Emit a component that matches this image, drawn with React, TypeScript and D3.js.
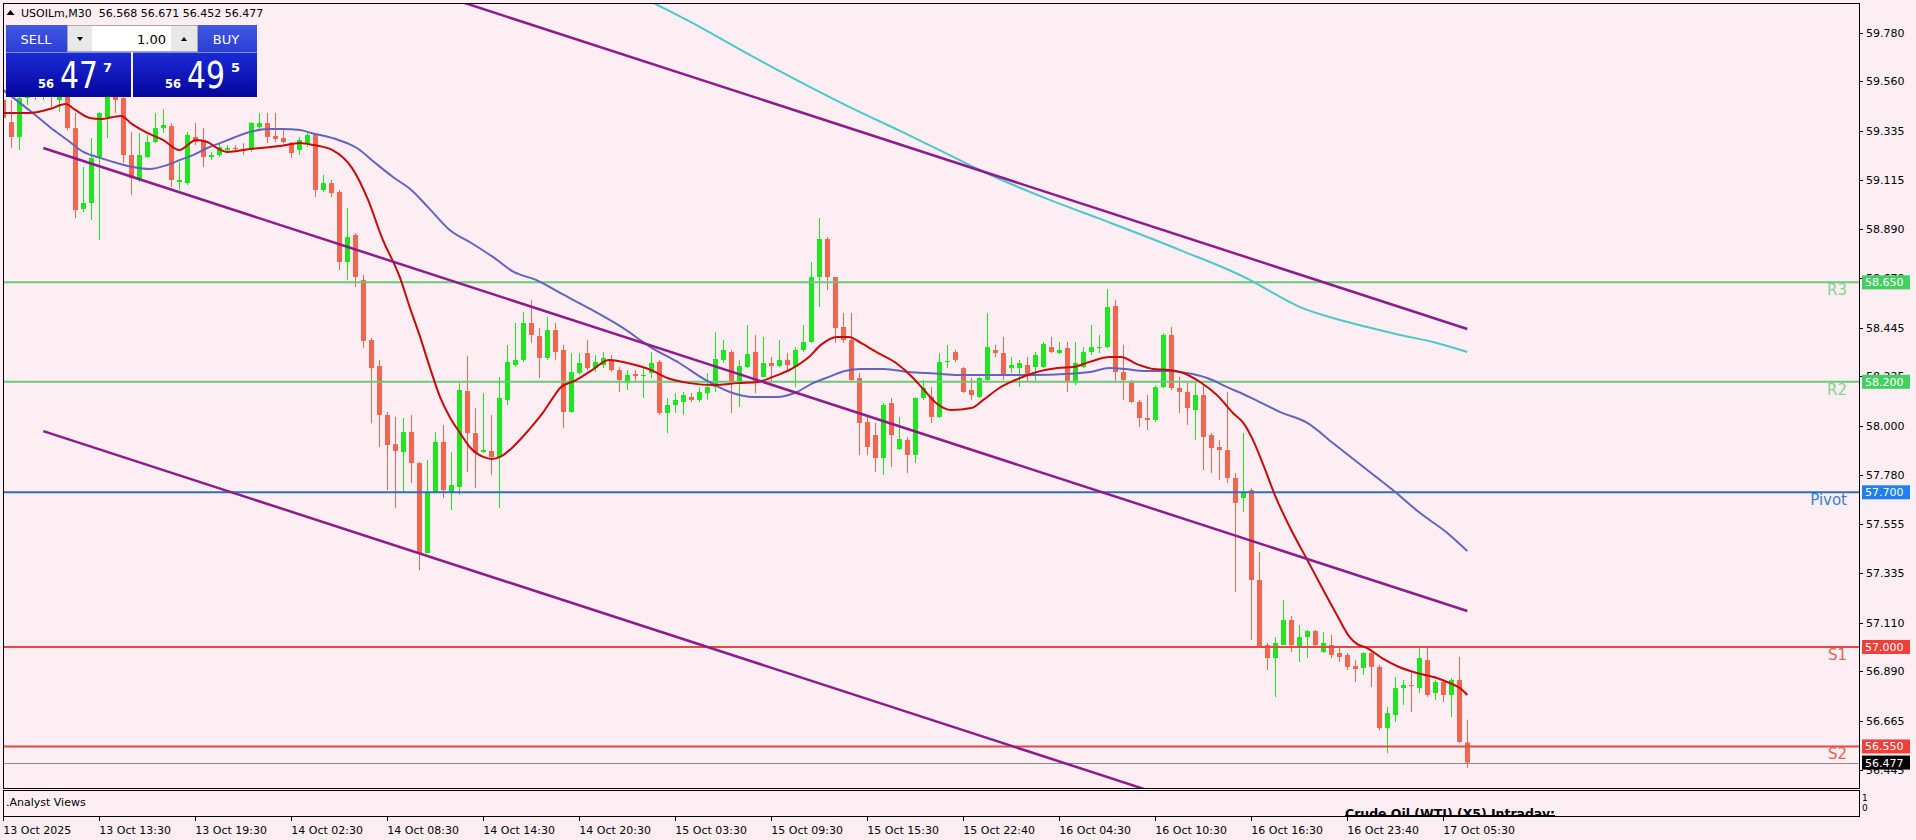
import React from 'react';
import * as d3 from 'd3';

// ---------- DATA ----------
const symbolName = 'USOILm,M30';
const opens = [
  59.475, 59.375, 59.308, 59.484, 59.529, 59.498, 59.566, 59.475, 59.511, 59.348,
  58.982, 59.009, 59.213, 59.398, 59.529, 59.484, 59.226, 59.113, 59.217, 59.285,
  59.348, 59.357, 59.104, 59.099, 59.308, 59.294, 59.217, 59.226, 59.249, 59.258,
  59.253, 59.249, 59.353, 59.371, 59.312, 59.303, 59.280, 59.249, 59.280, 59.317,
  59.068, 59.099, 59.059, 58.742, 58.864, 58.661, 58.389, 58.271, 58.050, 57.918,
  57.882, 57.973, 57.832, 57.425, 57.701, 57.928, 57.701, 57.724, 58.158, 57.968,
  57.882, 57.887, 57.860, 58.118, 58.276, 58.299, 58.466, 58.407, 58.308, 58.434,
  58.344, 58.063, 58.240, 58.330, 58.262, 58.276, 58.299, 58.253, 58.194, 58.235,
  58.226, 58.240, 58.290, 58.059, 58.095, 58.109, 58.131, 58.118, 58.149, 58.176,
  58.299, 58.335, 58.199, 58.267, 58.335, 58.222, 58.285, 58.271, 58.299, 58.267,
  58.344, 58.380, 58.674, 58.846, 58.674, 58.448, 58.389, 58.217, 58.018, 57.959,
  57.855, 58.104, 57.896, 57.937, 57.869, 58.127, 58.131, 58.041, 58.290, 58.335,
  58.262, 58.163, 58.131, 58.208, 58.344, 58.330, 58.262, 58.262, 58.276, 58.267,
  58.267, 58.357, 58.330, 58.353, 58.194, 58.267, 58.335, 58.353, 58.357, 58.543,
  58.244, 58.199, 58.109, 58.036, 58.027, 58.176, 58.412, 58.172, 58.154, 58.072,
  58.140, 57.959, 57.905, 57.891, 57.765, 57.674, 57.710, 57.303, 57.009, 56.950,
  57.009, 57.122, 57.000, 57.045, 57.072, 56.977, 57.009, 56.973, 56.964, 56.914,
  56.905, 56.973, 56.910, 56.633, 56.692, 56.814, 56.828, 56.814, 56.941, 56.792,
  56.842, 56.783, 56.851, 56.568,
];
const highs = [
  59.493, 59.475, 59.511, 59.566, 59.588, 59.611, 59.602, 59.543, 59.529, 59.416,
  59.172, 59.303, 59.421, 59.543, 59.566, 59.520, 59.330, 59.326, 59.317, 59.416,
  59.434, 59.371, 59.195, 59.330, 59.371, 59.348, 59.240, 59.280, 59.271, 59.271,
  59.280, 59.375, 59.416, 59.416, 59.416, 59.348, 59.285, 59.308, 59.326, 59.326,
  59.136, 59.113, 59.068, 58.986, 58.873, 58.683, 58.398, 58.299, 58.063, 58.041,
  58.036, 58.050, 57.837, 57.846, 57.973, 58.004, 57.882, 58.194, 58.317, 58.081,
  58.149, 58.050, 58.222, 58.367, 58.466, 58.516, 58.570, 58.443, 58.493, 58.466,
  58.367, 58.330, 58.330, 58.389, 58.321, 58.335, 58.321, 58.267, 58.253, 58.253,
  58.267, 58.335, 58.299, 58.127, 58.149, 58.154, 58.149, 58.176, 58.240, 58.425,
  58.389, 58.344, 58.299, 58.457, 58.412, 58.403, 58.312, 58.389, 58.330, 58.357,
  58.457, 58.742, 58.941, 58.855, 58.674, 58.511, 58.511, 58.240, 58.041, 58.014,
  58.104, 58.127, 58.041, 57.950, 58.131, 58.208, 58.176, 58.330, 58.367, 58.344,
  58.267, 58.217, 58.222, 58.511, 58.367, 58.403, 58.312, 58.299, 58.312, 58.335,
  58.380, 58.403, 58.380, 58.380, 58.380, 58.357, 58.457, 58.412, 58.620, 58.570,
  58.367, 58.208, 58.118, 58.140, 58.185, 58.421, 58.448, 58.222, 58.194, 58.194,
  58.185, 57.968, 57.937, 58.154, 57.787, 57.968, 57.719, 57.430, 57.018, 57.045,
  57.213, 57.140, 57.100, 57.077, 57.077, 57.068, 57.054, 57.000, 56.973, 56.941,
  56.977, 56.977, 56.919, 56.729, 56.864, 56.851, 56.882, 56.995, 56.995, 56.851,
  56.851, 56.860, 56.955, 56.671,
];
const lows = [
  59.326, 59.258, 59.249, 59.452, 59.475, 59.475, 59.439, 59.421, 59.339, 58.941,
  58.968, 58.932, 58.842, 59.303, 59.416, 59.190, 59.045, 59.104, 59.213, 59.280,
  59.326, 59.081, 59.068, 59.090, 59.271, 59.172, 59.204, 59.217, 59.235, 59.240,
  59.226, 59.240, 59.339, 59.280, 59.285, 59.280, 59.213, 59.226, 59.262, 59.036,
  59.059, 59.036, 58.706, 58.661, 58.629, 58.353, 58.013, 57.905, 57.710, 57.629,
  57.701, 57.742, 57.348, 57.425, 57.697, 57.674, 57.620, 57.688, 57.792, 57.719,
  57.878, 57.778, 57.629, 58.095, 58.267, 58.290, 58.376, 58.217, 58.299, 58.299,
  57.991, 58.059, 58.231, 58.253, 58.244, 58.262, 58.244, 58.154, 58.163, 58.199,
  58.127, 58.217, 58.050, 57.968, 58.059, 58.050, 58.109, 58.109, 58.118, 58.154,
  58.285, 58.059, 58.086, 58.262, 58.149, 58.222, 58.199, 58.267, 58.253, 58.176,
  58.335, 58.376, 58.538, 58.615, 58.376, 58.376, 58.199, 57.869, 57.869, 57.792,
  57.778, 57.814, 57.891, 57.787, 57.832, 58.118, 58.014, 58.036, 58.262, 58.290,
  58.149, 58.118, 58.127, 58.199, 58.312, 58.208, 58.240, 58.176, 58.199, 58.199,
  58.262, 58.330, 58.326, 58.154, 58.185, 58.262, 58.321, 58.330, 58.353, 58.194,
  58.118, 58.104, 57.995, 57.982, 58.018, 58.172, 58.163, 58.059, 58.005, 57.937,
  57.801, 57.787, 57.756, 57.742, 57.249, 57.611, 57.032, 56.995, 56.896, 56.774,
  57.009, 56.977, 56.932, 56.950, 57.000, 56.973, 56.950, 56.932, 56.896, 56.842,
  56.873, 56.819, 56.624, 56.520, 56.661, 56.738, 56.706, 56.792, 56.774, 56.760,
  56.751, 56.683, 56.566, 56.452,
];
const closes = [
  59.394, 59.308, 59.484, 59.529, 59.498, 59.566, 59.511, 59.520, 59.348, 58.977,
  59.009, 59.213, 59.416, 59.520, 59.475, 59.226, 59.122, 59.226, 59.285, 59.348,
  59.362, 59.113, 59.113, 59.317, 59.285, 59.217, 59.226, 59.262, 59.258, 59.253,
  59.244, 59.371, 59.371, 59.308, 59.299, 59.285, 59.235, 59.294, 59.317, 59.068,
  59.099, 59.054, 58.742, 58.855, 58.674, 58.385, 58.262, 58.050, 57.914, 57.887,
  57.973, 57.832, 57.425, 57.701, 57.928, 57.710, 57.733, 58.163, 57.968, 57.878,
  57.891, 57.860, 58.127, 58.290, 58.299, 58.466, 58.412, 58.308, 58.434, 58.335,
  58.063, 58.244, 58.285, 58.262, 58.290, 58.308, 58.253, 58.208, 58.231, 58.226,
  58.231, 58.285, 58.059, 58.095, 58.118, 58.140, 58.118, 58.154, 58.176, 58.303,
  58.344, 58.199, 58.271, 58.326, 58.194, 58.285, 58.271, 58.299, 58.276, 58.344,
  58.380, 58.674, 58.846, 58.674, 58.443, 58.389, 58.208, 58.014, 57.905, 57.855,
  58.095, 57.959, 57.941, 57.869, 58.127, 58.172, 58.041, 58.290, 58.294, 58.299,
  58.154, 58.140, 58.217, 58.357, 58.330, 58.231, 58.276, 58.285, 58.231, 58.321,
  58.371, 58.335, 58.344, 58.199, 58.285, 58.335, 58.357, 58.357, 58.538, 58.244,
  58.208, 58.109, 58.036, 58.027, 58.176, 58.412, 58.172, 58.154, 58.081, 58.140,
  57.950, 57.900, 57.891, 57.765, 57.652, 57.701, 57.303, 57.000, 56.950, 57.018,
  57.122, 57.009, 57.045, 57.072, 57.009, 57.018, 56.964, 56.955, 56.910, 56.900,
  56.973, 56.910, 56.633, 56.701, 56.814, 56.828, 56.823, 56.950, 56.783, 56.842,
  56.783, 56.851, 56.570, 56.477,
];
const askPrice = 56.495;

// moving averages: [bar index, price]
const maFast: [number, number][] = [
  [0, 59.416], [3.2, 59.416], [5.8, 59.434], [7.8, 59.457], [9.0, 59.430], [10.8, 59.394],
  [12.1, 59.389], [14.7, 59.403], [16.1, 59.366], [18.0, 59.326], [20.0, 59.294], [22.0, 59.249],
  [24.1, 59.294], [25.5, 59.285], [26.7, 59.258], [28.0, 59.240], [30.8, 59.253], [34.6, 59.267],
  [37.1, 59.280], [38.8, 59.271], [41.1, 59.249], [43.6, 59.167], [45.6, 59.023], [47.3, 58.855],
  [49.6, 58.670], [50.8, 58.538], [52.1, 58.403], [53.3, 58.267], [54.6, 58.131], [55.8, 58.041],
  [57.1, 57.968], [58.3, 57.905], [60.0, 57.860], [61.1, 57.851], [62.1, 57.860], [63.7, 57.905],
  [64.9, 57.950], [66.2, 58.004], [67.5, 58.063], [68.7, 58.127], [69.6, 58.172], [71.6, 58.208],
  [73.6, 58.253], [75.7, 58.299], [78.0, 58.285], [81.0, 58.253], [83.0, 58.217], [85.8, 58.194],
  [88.8, 58.185], [91.8, 58.194], [94.3, 58.199], [96.2, 58.222], [98.7, 58.262], [100.7, 58.312],
  [102.2, 58.367], [104.2, 58.403], [105.7, 58.403], [107.2, 58.376], [109.1, 58.335], [111.6, 58.285],
  [113.6, 58.222], [115.1, 58.163], [116.6, 58.104], [118.5, 58.072], [121.0, 58.081], [122.5, 58.118],
  [124.5, 58.172], [126.5, 58.208], [128.8, 58.240], [131.8, 58.262], [133.8, 58.267], [135.8, 58.290],
  [138.3, 58.312], [139.7, 58.312], [141.7, 58.280], [143.7, 58.258], [145.7, 58.253], [147.5, 58.240],
  [149.6, 58.199], [151.7, 58.140], [153.7, 58.059], [155.0, 58.014], [156.2, 57.937], [157.5, 57.824],
  [159.0, 57.683], [160.8, 57.543], [163.0, 57.394], [165.0, 57.258], [166.7, 57.145], [168.3, 57.045],
  [169.2, 57.014], [170.5, 56.995], [172.5, 56.946], [174.2, 56.914], [176.7, 56.882], [179.2, 56.860],
  [180.8, 56.837], [182.1, 56.814], [183.0, 56.783],
];
const maMid: [number, number][] = [
  [0, 59.520], [2.1, 59.461], [3.7, 59.416], [5.8, 59.353], [8.0, 59.294], [10.0, 59.240],
  [12.1, 59.213], [14.2, 59.190], [16.2, 59.172], [18.3, 59.163], [20.5, 59.181], [22.1, 59.204],
  [23.7, 59.226], [25.5, 59.258], [27.1, 59.280], [28.7, 59.303], [30.8, 59.330], [33.0, 59.344],
  [35.0, 59.344], [37.1, 59.339], [38.5, 59.326], [41.9, 59.294], [44.2, 59.258], [46.5, 59.190],
  [48.7, 59.127], [51.0, 59.068], [53.2, 58.986], [55.8, 58.887], [58.5, 58.828], [61.2, 58.765],
  [63.8, 58.697], [66.6, 58.661], [69.6, 58.602], [73.6, 58.525], [77.5, 58.443], [80.9, 58.357],
  [84.5, 58.285], [87.8, 58.208], [90.8, 58.154], [93.8, 58.131], [96.7, 58.131], [99.2, 58.154],
  [101.2, 58.194], [103.2, 58.222], [105.2, 58.249], [107.2, 58.258], [110.1, 58.258], [113.1, 58.244],
  [115.6, 58.240], [118.9, 58.231], [123.9, 58.231], [128.8, 58.231], [132.8, 58.235], [135.8, 58.244],
  [138.3, 58.262], [140.2, 58.258], [142.7, 58.249], [145.5, 58.249], [147.9, 58.240], [150.5, 58.217],
  [153.0, 58.176], [155.8, 58.131], [159.6, 58.063], [163.0, 58.014], [166.2, 57.923], [170.5, 57.801],
  [173.7, 57.710], [177.1, 57.606], [180.5, 57.516], [183.0, 57.434],
];
const maSlow: [number, number][] = [
  [79.6, 59.946], [81.3, 59.914], [87.1, 59.805], [93.3, 59.679], [99.6, 59.557], [105.8, 59.443],
  [112.1, 59.335], [118.3, 59.226], [121.8, 59.163], [130.8, 59.023], [137.1, 58.937], [147.1, 58.796],
  [155.8, 58.661], [158.7, 58.602], [162.1, 58.538], [166.2, 58.489], [170.5, 58.448], [174.6, 58.412],
  [178.7, 58.380], [183.0, 58.335],
];

// regression channel: [bar, price] endpoints
const channelTop: [number, number][] = [[5, 60.534], [183, 58.439]];
const channelMid: [number, number][] = [[5, 59.258], [183, 57.163]];
const channelBot: [number, number][] = [[5, 57.977], [183, 55.882]];

// pivot levels
const levelNames = ['R3', 'R2', 'Pivot', 'S1', 'S2'];
const levelPrices = [58.65, 58.2, 57.7, 57.0, 56.55];

// axes
const priceTicks = [59.78, 59.56, 59.335, 59.115, 58.89, 58.67, 58.445, 58.225, 58.0, 57.78, 57.555, 57.335, 57.11, 56.89, 56.665, 56.445];
const timeLabels = [
  '13 Oct 2025', '13 Oct 13:30', '13 Oct 19:30', '14 Oct 02:30', '14 Oct 08:30', '14 Oct 14:30',
  '14 Oct 20:30', '15 Oct 03:30', '15 Oct 09:30', '15 Oct 15:30', '15 Oct 22:40', '16 Oct 04:30',
  '16 Oct 10:30', '16 Oct 16:30', '16 Oct 23:40', '17 Oct 05:30',
];
const timeLabelBars = [0, 12, 24, 36, 48, 60, 72, 84, 96, 108, 120, 132, 144, 156, 168, 180];

const subWindowName = '.Analyst Views';
const subWindowTitle = 'Crude Oil (WTI) (X5) Intraday:';
const lotSize = '1.00';

// ---------- STYLE ----------
const BG = '#FCEEF2';
const UP = '#1FE41F';
const DOWN = '#F2654F';
const FONT = "'DejaVu Sans', sans-serif";
const levelColors: Record<string, { line: string; text: string; box: string }> = {
  R3: { line: '#6CC97B', text: '#86D394', box: '#43CF62' },
  R2: { line: '#6CC97B', text: '#86D394', box: '#43CF62' },
  Pivot: { line: '#2D6FBE', text: '#3C7DD0', box: '#1F80F0' },
  S1: { line: '#E24A44', text: '#E2625C', box: '#EE3F38' },
  S2: { line: '#E24A44', text: '#E2625C', box: '#EE3F38' },
};

const L = 3, R = 1859, T = 3, B = 788;

export default function App() {
  const x = d3.scaleLinear().domain([0, 183]).range([3.3, 1467.3]);
  const y = d3.scaleLinear().domain([56.362, 59.914]).range([788, 3]);

  const maLine = d3
    .line<[number, number]>()
    .x((d) => x(d[0]))
    .y((d) => y(d[1]))
    .curve(d3.curveMonotoneX);

  const fmt = d3.format('.3f');
  const split = (p: number) => {
    const s = fmt(p);
    return { big: s.slice(0, 2), mid: s.slice(3, 5), small: s.slice(5) };
  };
  const sell = split(closes[closes.length - 1]);
  const buy = split(askPrice);
  const last = closes.length - 1;
  const ohlcText = `${symbolName}  ${fmt(opens[last])} ${fmt(highs[last])} ${fmt(lows[last])} ${fmt(closes[last])}`;

  return (
    <svg
      width={1916}
      height={840}
      style={{ position: 'absolute', left: 0, top: 0, display: 'block' }}
      fontFamily={FONT}
    >
      <defs>
        <clipPath id="mainClip">
          <rect x={L + 1} y={T + 1} width={R - L - 1} height={B - T - 1} />
        </clipPath>
        <clipPath id="subClip">
          <rect x={L + 1} y={791} width={R - L - 1} height={25.5} />
        </clipPath>
        <linearGradient id="btnTop" x1="0" y1="0" x2="0" y2="1">
          <stop offset="0" stopColor="#4357E4" />
          <stop offset="1" stopColor="#2A3ED6" />
        </linearGradient>
        <linearGradient id="btnBot" x1="0" y1="0" x2="0" y2="1">
          <stop offset="0" stopColor="#1B2BD6" />
          <stop offset="1" stopColor="#05059C" />
        </linearGradient>
      </defs>
      <rect x={0} y={0} width={1916} height={840} fill={BG} />

      <g clipPath="url(#mainClip)">
        {/* candles */}
        {opens.map((o, i) => {
          const c = closes[i];
          const cx = Math.round(x(i));
          const col = c >= o ? UP : DOWN;
          const yt = y(Math.max(o, c));
          const yb = y(Math.min(o, c));
          return (
            <g key={i}>
              <line x1={cx + 0.5} x2={cx + 0.5} y1={y(highs[i])} y2={y(lows[i])} stroke={col} strokeWidth={1} />
              <rect x={cx - 2} y={yt} width={5} height={Math.max(1, yb - yt)} fill={col} />
            </g>
          );
        })}

        {/* level lines */}
        {levelNames.map((n, i) => (
          <line key={n} x1={L} x2={R} y1={y(levelPrices[i])} y2={y(levelPrices[i])} stroke={levelColors[n].line} strokeWidth={2} />
        ))}
        <line x1={L} x2={R} y1={Math.round(y(closes[last])) + 0.5} y2={Math.round(y(closes[last])) + 0.5} stroke="#8A8A8A" strokeWidth={1} />

        {/* moving averages */}
        <path d={maLine(maSlow) || ''} fill="none" stroke="#4FC7C9" strokeWidth={2} />
        <path d={maLine(maMid) || ''} fill="none" stroke="#6464BE" strokeWidth={2} />
        <path d={maLine(maFast) || ''} fill="none" stroke="#C80A0A" strokeWidth={2} />

        {/* channel */}
        {[channelTop, channelMid, channelBot].map((ch, i) => (
          <line key={i} x1={x(ch[0][0])} y1={y(ch[0][1])} x2={x(ch[1][0])} y2={y(ch[1][1])} stroke="#8E1A8C" strokeWidth={2.5} />
        ))}

        {/* level names */}
        {levelNames.map((n, i) => (
          <text key={n} x={1847} y={y(levelPrices[i]) + 13} textAnchor="end" fontSize={15} fill={levelColors[n].text}>
            {n}
          </text>
        ))}
      </g>

      {/* frames */}
      <rect x={L + 0.5} y={T + 0.5} width={R - L} height={B - T} fill="none" stroke="#000" strokeWidth={1} />
      <rect x={L + 0.5} y={790.5} width={R - L} height={26} fill="none" stroke="#000" strokeWidth={1} />

      {/* price axis */}
      {priceTicks.map((p) => (
        <g key={p}>
          <line x1={R} x2={R + 4} y1={Math.round(y(p)) + 0.5} y2={Math.round(y(p)) + 0.5} stroke="#000" />
          <text x={1866} y={y(p) + 4} fontSize={11} fill="#000">
            {fmt(p)}
          </text>
        </g>
      ))}
      {levelNames.map((n, i) => (
        <g key={n}>
          <rect x={1862} y={y(levelPrices[i]) - 7} width={48} height={14} fill={levelColors[n].box} />
          <text x={1865} y={y(levelPrices[i]) + 4} fontSize={11} fill="#FFFFFF">
            {fmt(levelPrices[i])}
          </text>
        </g>
      ))}
      <rect x={1862} y={y(closes[last]) - 7} width={48} height={14} fill="#000" />
      <text x={1865} y={y(closes[last]) + 4} fontSize={11} fill="#FFFFFF">
        {fmt(closes[last])}
      </text>

      {/* sub window */}
      <text x={6} y={806} fontSize={11} fill="#000">{subWindowName}</text>
      <g clipPath="url(#subClip)">
        <text x={1345} y={818} fontSize={11.5} fontWeight="bold" fill="#000" textLength={210} lengthAdjust="spacingAndGlyphs">
          {subWindowTitle}
        </text>
        <line x1={1345} x2={1555} y1={815.5} y2={815.5} stroke="#000" />
      </g>
      <text x={1862} y={801} fontSize={9} fill="#000">1</text>
      <text x={1862} y={811} fontSize={9} fill="#000">0</text>

      {/* time axis */}
      {timeLabelBars.map((b, i) => (
        <g key={b}>
          <line x1={Math.round(x(b)) + 0.5} x2={Math.round(x(b)) + 0.5} y1={817} y2={821} stroke="#000" />
          <text x={x(b)} y={834} fontSize={11} fill="#000">
            {timeLabels[i]}
          </text>
        </g>
      ))}

      {/* header */}
      <path d="M6.5,15 L10.5,10 L14.5,15 Z" fill="#000" />
      <text x={21} y={17} fontSize={11} fill="#000" style={{ whiteSpace: 'pre' }}>
        {ohlcText}
      </text>

      {/* one click trading panel */}
      <g>
        <rect x={6} y={25} width={125} height={27} fill="url(#btnTop)" />
        <rect x={133} y={25} width={124} height={27} fill="url(#btnTop)" />
        <rect x={6} y={52} width={125} height={45} fill="url(#btnBot)" />
        <rect x={133} y={52} width={124} height={45} fill="url(#btnBot)" />
        <line x1={6} x2={131} y1={52.5} y2={52.5} stroke="#7C8AF0" />
        <line x1={133} x2={257} y1={52.5} y2={52.5} stroke="#7C8AF0" />
        <text x={36} y={44} fontSize={13} fill="#FFFFFF" textAnchor="middle">SELL</text>
        <text x={226} y={44} fontSize={13} fill="#FFFFFF" textAnchor="middle">BUY</text>
        <rect x={67.5} y={25.5} width={130} height={26} fill="#E8E8E8" stroke="#A8A8A8" />
        <rect x={92} y={26} width={79} height={25} fill="#FFFFFF" />
        <path d="M77,37 L83,37 L80,41 Z" fill="#000" />
        <path d="M181,41 L187,41 L184,37 Z" fill="#000" />
        <text x={166} y={44} fontSize={13} fill="#000" textAnchor="end">{lotSize}</text>

        <text x={38} y={88} fontSize={13} fontWeight="bold" fill="#FFFFFF" textLength={16} lengthAdjust="spacingAndGlyphs">{sell.big}</text>
        <text x={60} y={88} fontSize={38} fill="#FFFFFF" textLength={38} lengthAdjust="spacingAndGlyphs">{sell.mid}</text>
        <text x={103} y={72} fontSize={13} fontWeight="bold" fill="#FFFFFF">{sell.small}</text>
        <text x={165} y={88} fontSize={13} fontWeight="bold" fill="#FFFFFF" textLength={16} lengthAdjust="spacingAndGlyphs">{buy.big}</text>
        <text x={187} y={88} fontSize={38} fill="#FFFFFF" textLength={38} lengthAdjust="spacingAndGlyphs">{buy.mid}</text>
        <text x={231} y={72} fontSize={13} fontWeight="bold" fill="#FFFFFF">{buy.small}</text>
      </g>
    </svg>
  );
}
